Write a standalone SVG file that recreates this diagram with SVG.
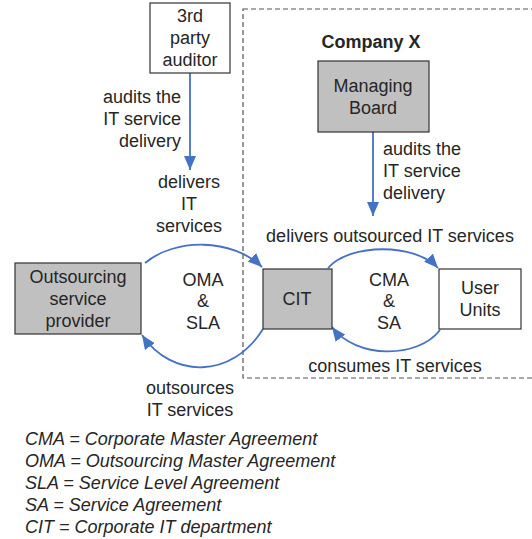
<svg xmlns="http://www.w3.org/2000/svg" width="532" height="539" viewBox="0 0 532 539">
<defs>
<marker id="ah" markerUnits="userSpaceOnUse" markerWidth="15" markerHeight="12" refX="14" refY="6" orient="auto">
<path d="M0,0 L14,6 L0,12 z" fill="#4472c4"/>
</marker>
<style>
text{font-family:"Liberation Sans",Arial,sans-serif;font-size:18px;fill:#262626}
.c{text-anchor:middle}
.r{text-anchor:end}
.b{font-weight:bold}
.i{font-style:italic}
.box{stroke:#333;stroke-width:1.2}
.g{fill:#c0c0c0}
.w{fill:#fff}
.ln{fill:none;stroke:#4472c4;stroke-width:1.8;marker-end:url(#ah)}
</style>
</defs>
<rect width="532" height="539" fill="#fff"/>
<g id="company-x">
<rect x="243" y="9" width="300" height="369" fill="none" stroke="#555" stroke-width="1.2" stroke-dasharray="5,3"/>
<text class="c b" x="371" y="48">Company X</text>
</g>
<g id="connectors">
<path class="ln" d="M190,73 L190,170"/>
<path class="ln" d="M373,132 L373,216"/>
<path class="ln" d="M145,263 C175,238 232,238 262,267"/>
<path class="ln" d="M263,329 C232,379 172,379 142,335"/>
<path class="ln" d="M328,268 C350,243 415,243 438,268"/>
<path class="ln" d="M440,330 C418,359 356,359 332,327"/>
<text class="r" x="181" y="103">audits the</text>
<text class="r" x="181" y="125">IT service</text>
<text class="r" x="181" y="147">delivery</text>
<text class="c" x="189" y="188">delivers</text>
<text class="c" x="189" y="210">IT</text>
<text class="c" x="189" y="232">services</text>
<text x="383" y="155">audits the</text>
<text x="383" y="177">IT service</text>
<text x="383" y="199">delivery</text>
<text class="c" x="390" y="242">delivers outsourced IT services</text>
<text class="c" x="203" y="286">OMA</text>
<text class="c" x="203" y="307">&amp;</text>
<text class="c" x="203" y="329">SLA</text>
<text class="c" x="389" y="286">CMA</text>
<text class="c" x="389" y="307">&amp;</text>
<text class="c" x="389" y="329">SA</text>
<text class="c" x="395" y="372">consumes IT services</text>
<text class="c" x="190" y="394">outsources</text>
<text class="c" x="190" y="416">IT services</text>
</g>
<g id="auditor">
<rect class="box w" x="150" y="3" width="80" height="70"/>
<text class="c" x="190" y="22">3rd</text>
<text class="c" x="190" y="44">party</text>
<text class="c" x="190" y="66">auditor</text>
</g>
<g id="managing-board">
<rect class="box g" x="318" y="61" width="111" height="71"/>
<text class="c" x="373" y="92">Managing</text>
<text class="c" x="373" y="114">Board</text>
</g>
<g id="osp">
<rect class="box g" x="15" y="263" width="126" height="71"/>
<text class="c" x="78" y="283">Outsourcing</text>
<text class="c" x="78" y="305">service</text>
<text class="c" x="78" y="327">provider</text>
</g>
<g id="cit">
<rect class="box g" x="263" y="269" width="69" height="60"/>
<text class="c" x="297" y="305">CIT</text>
</g>
<g id="user-units">
<rect class="box w" x="439" y="269" width="82" height="60"/>
<text class="c" x="480" y="294">User</text>
<text class="c" x="480" y="316">Units</text>
</g>
<g id="legend">
<text class="i" x="25" y="445">CMA = Corporate Master Agreement</text>
<text class="i" x="25" y="467">OMA = Outsourcing Master Agreement</text>
<text class="i" x="25" y="489">SLA = Service Level Agreement</text>
<text class="i" x="25" y="511">SA = Service Agreement</text>
<text class="i" x="25" y="533">CIT = Corporate IT department</text>
</g>
</svg>
